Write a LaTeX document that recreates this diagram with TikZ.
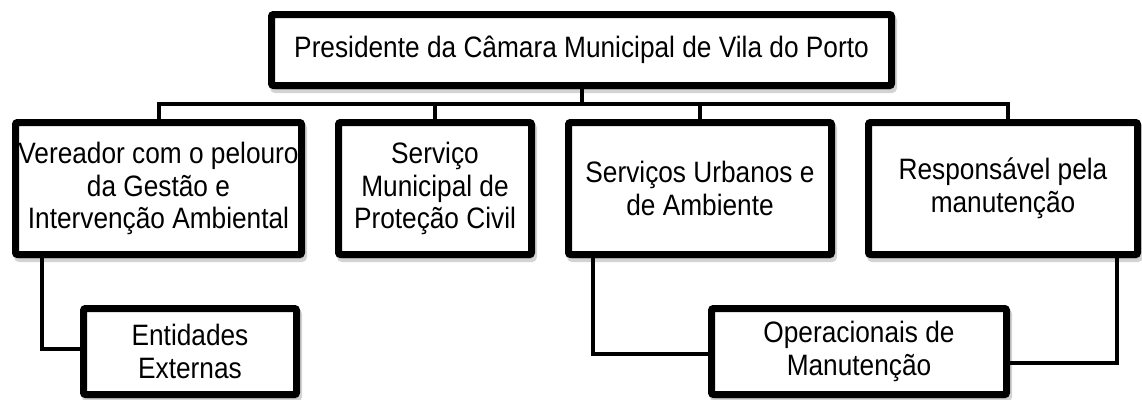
\documentclass[tikz,border=0pt]{standalone}
\usepackage{fontspec}
\setmainfont[FakeStretch=0.89]{Liberation Sans}
\usepackage{tikz}
\usetikzlibrary{shadows}
\definecolor{box_edge}{RGB}{0,0,0}
\definecolor{link_black}{RGB}{0,0,0}
\definecolor{shade_gray}{RGB}{110,110,110}

\begin{document}
\begin{tikzpicture}[x=1pt,y=-1pt,line join=miter]
    \tikzstyle{unit}=[draw=box_edge, line width=7pt, rounded corners=2pt, fill=white, text=black, align=center, inner sep=0pt, font=\fontsize{29.5}{32.5}\selectfont, drop shadow={shadow xshift=2pt,shadow yshift=-4pt,fill=shade_gray,draw=shade_gray,opacity=.3}]
    \tikzstyle{headbox}=[style=unit, minimum width=620pt, minimum height=71pt]
    \tikzstyle{dept}=[style=unit, minimum height=132pt]
    \tikzstyle{team}=[style=unit, minimum height=86pt]
    \tikzstyle{link}=[draw=link_black, line width=4pt]

    \useasboundingbox (0,0) rectangle (1142,399);

    \node[headbox] (pres) at (581.5,50) {Presidente da Câmara Municipal de Vila do Porto};

    \node[dept, minimum width=286pt] (veread)  at (158.5,188.5) {Vereador com o pelouro\\da Gestão e\\Intervenção Ambiental};
    \node[dept, minimum width=193pt] (protec)  at (435,188.5)   {Serviço\\Municipal de\\Proteção Civil};
    \node[dept, minimum width=263pt] (servurb) at (700,188.5)   {Serviços Urbanos e\\de Ambiente};
    \node[dept, minimum width=269pt] (respman) at (1003,188.5)  {Responsável pela\\manutenção};

    \node[team, minimum width=213pt] (entext) at (190,351.5) {Entidades\\Externas};
    \node[team, minimum width=295pt] (opman)  at (859,351.5) {Operacionais de\\Manutenção};

    % bus line under the president
    \coordinate (bus) at (0,104);
    \draw[link] (pres.south) -- (pres.south |- bus);
    \draw[link] (veread.north) -- (veread.north |- bus) -- ([xshift=5pt]respman.north |- bus) -- ([xshift=5pt]respman.north);
    \draw[link] (protec.north) -- (protec.north |- bus);
    \draw[link] (servurb.north) -- (servurb.north |- bus);

    % lower level
    \draw[link] ([xshift=29.5pt]veread.south west) |- ([yshift=3pt]entext.west);
    \draw[link] ([xshift=27.5pt]servurb.south west) |- ([yshift=-2.5pt]opman.west);
    \draw[link] ([xshift=-24.5pt]respman.south east) |- ([yshift=-11.5pt]opman.east);
\end{tikzpicture}
\end{document}
